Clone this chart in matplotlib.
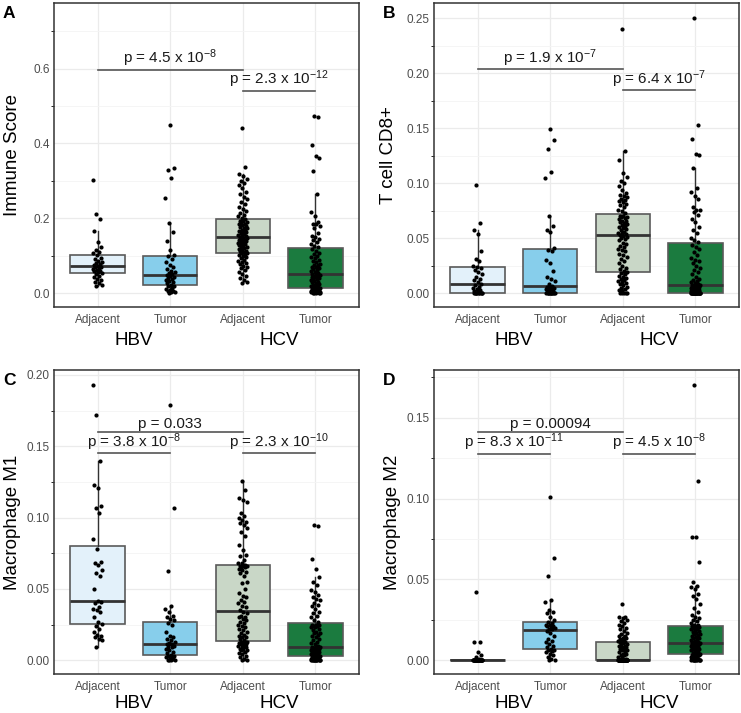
import matplotlib
matplotlib.use("Agg")
import matplotlib.pyplot as plt
import matplotlib.transforms as mtransforms
from matplotlib.ticker import MultipleLocator, FormatStrFormatter

plt.rcParams['font.family'] = ['Liberation Sans', 'DejaVu Sans']
plt.rcParams['mathtext.fontset'] = 'custom'
plt.rcParams['mathtext.rm'] = 'Liberation Sans'
plt.rcParams['mathtext.it'] = 'Liberation Sans:italic'
plt.rcParams['mathtext.bf'] = 'Liberation Sans:bold'
plt.rcParams['mathtext.default'] = 'regular'

# categories
conditions = ["Adjacent", "Tumor", "Adjacent", "Tumor"]
viruses = ["HBV", "HCV"]
box_colors = ["#E3F1FA", "#87CEEB", "#C9D7C7", "#1B7B3F"]

# --- A: Immune Score ---
immune_hbv_adj = [0.018, 0.021, 0.026, 0.030, 0.035, 0.039, 0.043, 0.047, 0.051, 0.054,
                  0.056, 0.058, 0.060, 0.063, 0.065, 0.067, 0.069, 0.071, 0.073, 0.075,
                  0.078, 0.080, 0.083, 0.086, 0.090, 0.094, 0.101, 0.106, 0.110, 0.115,
                  0.122, 0.137, 0.167, 0.197, 0.212, 0.303]
immune_hbv_tum = [0.000, 0.002, 0.004, 0.005, 0.007, 0.009, 0.012, 0.015, 0.018, 0.020,
                  0.023, 0.026, 0.029, 0.032, 0.035, 0.038, 0.041, 0.044, 0.047, 0.048,
                  0.050, 0.053, 0.056, 0.060, 0.065, 0.070, 0.076, 0.083, 0.090, 0.098,
                  0.102, 0.115, 0.138, 0.162, 0.188, 0.253, 0.307, 0.330, 0.335, 0.450]
immune_hcv_adj = [0.028, 0.031, 0.036, 0.041, 0.046, 0.052, 0.057, 0.062, 0.066, 0.070,
                  0.073, 0.077, 0.080, 0.084, 0.087, 0.089, 0.093, 0.096, 0.099, 0.101,
                  0.104, 0.106, 0.108, 0.110, 0.112, 0.113, 0.116, 0.118, 0.121, 0.122,
                  0.124, 0.126, 0.128, 0.130, 0.131, 0.133, 0.135, 0.137, 0.139, 0.140,
                  0.142, 0.143, 0.145, 0.146, 0.148, 0.150, 0.152, 0.154, 0.155, 0.158,
                  0.160, 0.162, 0.165, 0.166, 0.168, 0.170, 0.173, 0.175, 0.177, 0.180,
                  0.182, 0.184, 0.186, 0.188, 0.190, 0.192, 0.194, 0.198, 0.200, 0.205,
                  0.210, 0.214, 0.219, 0.225, 0.231, 0.238, 0.244, 0.252, 0.258, 0.265,
                  0.271, 0.280, 0.288, 0.294, 0.300, 0.306, 0.312, 0.318, 0.338, 0.440]
immune_hcv_tum = [0.000, 0.000, 0.000, 0.001, 0.001, 0.002, 0.002, 0.003, 0.003, 0.004,
                  0.005, 0.005, 0.006, 0.007, 0.007, 0.008, 0.009, 0.009, 0.010, 0.011,
                  0.011, 0.012, 0.013, 0.014, 0.015, 0.016, 0.018, 0.019, 0.021, 0.023,
                  0.025, 0.027, 0.029, 0.031, 0.033, 0.035, 0.037, 0.039, 0.041, 0.043,
                  0.044, 0.046, 0.047, 0.048, 0.049, 0.051, 0.053, 0.056, 0.058, 0.061,
                  0.064, 0.066, 0.069, 0.071, 0.074, 0.076, 0.079, 0.082, 0.085, 0.089,
                  0.093, 0.097, 0.100, 0.104, 0.108, 0.112, 0.118, 0.123, 0.127, 0.131,
                  0.136, 0.141, 0.145, 0.149, 0.153, 0.160, 0.175, 0.180, 0.185, 0.186,
                  0.190, 0.205, 0.217, 0.265, 0.327, 0.360, 0.365, 0.397, 0.470, 0.473]

# --- B: T cell CD8+ ---
cd8_hbv_adj = [0, 0, 0, 0, 0, 0, 0, 0, 0, 0,
               0.001, 0.002, 0.003, 0.004, 0.005, 0.006, 0.007, 0.008, 0.010, 0.012,
               0.013, 0.015, 0.017, 0.019, 0.021, 0.023, 0.024, 0.025, 0.029, 0.031,
               0.038, 0.054, 0.057, 0.064, 0.098]
cd8_hbv_tum = [0, 0, 0, 0, 0, 0, 0, 0, 0, 0,
               0, 0.001, 0.002, 0.003, 0.004, 0.004, 0.005, 0.005, 0.006, 0.006,
               0.0068, 0.008, 0.011, 0.013, 0.015, 0.020, 0.027, 0.030, 0.038, 0.0395,
               0.041, 0.056, 0.057, 0.061, 0.070, 0.105, 0.110, 0.131, 0.139, 0.149]
cd8_hcv_adj = [0, 0, 0, 0, 0, 0.002, 0.003, 0.004, 0.005, 0.006,
               0.007, 0.008, 0.009, 0.010, 0.011, 0.012, 0.013, 0.014, 0.015, 0.016,
               0.017, 0.018, 0.019, 0.020, 0.022, 0.023, 0.025, 0.027, 0.029, 0.031,
               0.033, 0.035, 0.036, 0.038, 0.039, 0.040, 0.042, 0.043, 0.045, 0.046,
               0.048, 0.049, 0.050, 0.051, 0.052, 0.053, 0.054, 0.055, 0.055, 0.056,
               0.057, 0.058, 0.059, 0.060, 0.061, 0.062, 0.063, 0.064, 0.065, 0.066,
               0.066, 0.067, 0.068, 0.069, 0.069, 0.070, 0.070, 0.073, 0.075, 0.076,
               0.078, 0.080, 0.081, 0.083, 0.084, 0.085, 0.086, 0.087, 0.088, 0.089,
               0.091, 0.094, 0.097, 0.100, 0.102, 0.106, 0.109, 0.121, 0.129, 0.240]
cd8_hcv_tum = [0, 0, 0, 0, 0, 0, 0, 0, 0, 0,
               0, 0, 0, 0, 0, 0, 0, 0, 0, 0,
               0, 0, 0, 0, 0.0005, 0.001, 0.0015, 0.002, 0.002, 0.0025,
               0.003, 0.003, 0.0035, 0.004, 0.004, 0.0045, 0.005, 0.005, 0.0055, 0.006,
               0.006, 0.0065, 0.0068, 0.007, 0.0072, 0.0074, 0.008, 0.009, 0.010, 0.011,
               0.012, 0.013, 0.015, 0.017, 0.019, 0.021, 0.023, 0.025, 0.027, 0.029,
               0.030, 0.032, 0.035, 0.037, 0.040, 0.042, 0.044, 0.0465, 0.048, 0.050,
               0.055, 0.057, 0.060, 0.065, 0.067, 0.071, 0.074, 0.0755, 0.076, 0.078,
               0.086, 0.088, 0.092, 0.096, 0.114, 0.126, 0.1265, 0.140, 0.153, 0.250]

# --- C: Macrophage M1 ---
m1_hbv_adj = [0.009, 0.014, 0.015, 0.016, 0.017, 0.018, 0.020, 0.022, 0.024, 0.0255,
              0.027, 0.030, 0.034, 0.035, 0.036, 0.037, 0.040, 0.041, 0.0415, 0.050,
              0.059, 0.061, 0.063, 0.067, 0.068, 0.069, 0.078, 0.085, 0.103, 0.107,
              0.108, 0.121, 0.123, 0.140, 0.172, 0.193]
m1_hbv_tum = [0, 0, 0, 0, 0.001, 0.001, 0.002, 0.002, 0.003, 0.003,
              0.0037, 0.005, 0.006, 0.007, 0.008, 0.009, 0.009, 0.010, 0.011, 0.011,
              0.0112, 0.012, 0.013, 0.014, 0.015, 0.016, 0.017, 0.020, 0.025, 0.026,
              0.028, 0.029, 0.030, 0.031, 0.034, 0.036, 0.038, 0.0625, 0.107, 0.179]
m1_hcv_adj = [0, 0, 0.001, 0.002, 0.003, 0.004, 0.005, 0.006, 0.007, 0.007,
              0.008, 0.008, 0.009, 0.009, 0.010, 0.010, 0.011, 0.011, 0.012, 0.012,
              0.013, 0.013, 0.013, 0.014, 0.015, 0.016, 0.016, 0.017, 0.018, 0.019,
              0.020, 0.021, 0.022, 0.023, 0.024, 0.025, 0.026, 0.027, 0.028, 0.029,
              0.030, 0.030, 0.031, 0.033, 0.034, 0.035, 0.037, 0.038, 0.040, 0.041,
              0.042, 0.044, 0.045, 0.047, 0.050, 0.054, 0.055, 0.059, 0.061, 0.062,
              0.063, 0.064, 0.065, 0.065, 0.066, 0.066, 0.066, 0.067, 0.068, 0.068,
              0.070, 0.073, 0.074, 0.077, 0.081, 0.087, 0.090, 0.093, 0.095, 0.096,
              0.097, 0.098, 0.100, 0.101, 0.103, 0.111, 0.112, 0.114, 0.119, 0.126]
m1_hcv_tum = [0, 0, 0, 0, 0, 0, 0, 0, 0, 0,
              0, 0, 0.0005, 0.001, 0.001, 0.0015, 0.0015, 0.002, 0.002, 0.0022,
              0.0025, 0.0026, 0.0027, 0.003, 0.0035, 0.004, 0.004, 0.0045, 0.005, 0.005,
              0.0055, 0.006, 0.006, 0.0065, 0.007, 0.007, 0.0075, 0.008, 0.008, 0.0083,
              0.0085, 0.0087, 0.0088, 0.0089, 0.009, 0.0092, 0.010, 0.011, 0.012, 0.013,
              0.014, 0.015, 0.016, 0.017, 0.018, 0.019, 0.019, 0.020, 0.021, 0.022,
              0.023, 0.023, 0.024, 0.024, 0.025, 0.025, 0.025, 0.0265, 0.028, 0.030,
              0.031, 0.033, 0.034, 0.036, 0.038, 0.039, 0.040, 0.042, 0.043, 0.044,
              0.046, 0.048, 0.049, 0.053, 0.055, 0.058, 0.064, 0.071, 0.094, 0.0945]

# --- D: Macrophage M2 ---
m2_hbv_adj = [0, 0, 0, 0, 0, 0, 0, 0, 0, 0,
              0, 0, 0, 0, 0, 0, 0, 0, 0, 0,
              0, 0, 0, 0, 0, 0, 0, 0, 0.001, 0.002,
              0.003, 0.005, 0.011, 0.0115, 0.042]
m2_hbv_tum = [0, 0, 0.001, 0.002, 0.003, 0.004, 0.005, 0.0055, 0.006, 0.0062,
              0.007, 0.008, 0.009, 0.010, 0.011, 0.012, 0.013, 0.015, 0.017, 0.018,
              0.019, 0.0195, 0.020, 0.020, 0.021, 0.021, 0.022, 0.022, 0.023, 0.0235,
              0.025, 0.027, 0.029, 0.030, 0.031, 0.036, 0.037, 0.052, 0.063, 0.101]
m2_hcv_adj = [0, 0, 0, 0, 0, 0, 0, 0, 0, 0,
              0, 0, 0, 0, 0, 0, 0, 0, 0, 0,
              0, 0, 0, 0, 0, 0, 0, 0, 0, 0,
              0, 0, 0, 0, 0, 0, 0, 0, 0, 0,
              0, 0, 0, 0, 0, 0, 0.001, 0.002, 0.002, 0.003,
              0.003, 0.004, 0.004, 0.005, 0.005, 0.006, 0.006, 0.007, 0.007, 0.008,
              0.008, 0.009, 0.009, 0.010, 0.010, 0.0105, 0.011, 0.0115, 0.012, 0.012,
              0.013, 0.013, 0.014, 0.014, 0.015, 0.015, 0.016, 0.017, 0.018, 0.019,
              0.020, 0.021, 0.022, 0.023, 0.024, 0.025, 0.026, 0.027, 0.027, 0.035]
m2_hcv_tum = [0, 0, 0, 0, 0, 0, 0, 0, 0, 0,
              0.0005, 0.001, 0.001, 0.0015, 0.002, 0.002, 0.0025, 0.003, 0.003, 0.0033,
              0.0035, 0.0037, 0.0038, 0.004, 0.0045, 0.005, 0.0055, 0.006, 0.0065, 0.007,
              0.0072, 0.0075, 0.008, 0.0083, 0.0086, 0.009, 0.0093, 0.0096, 0.0098, 0.010,
              0.0102, 0.0104, 0.0106, 0.0107, 0.0108, 0.011, 0.0115, 0.012, 0.0125, 0.013,
              0.0135, 0.014, 0.0145, 0.015, 0.0155, 0.016, 0.0165, 0.017, 0.0175, 0.018,
              0.0185, 0.019, 0.0195, 0.020, 0.0205, 0.021, 0.021, 0.0216, 0.022, 0.023,
              0.024, 0.025, 0.026, 0.027, 0.028, 0.030, 0.032, 0.035, 0.038, 0.040,
              0.041, 0.044, 0.045, 0.046, 0.0486, 0.061, 0.076, 0.0765, 0.111, 0.170]

# p-value labels per panel
pvals_a = [r"p = 4.5 x 10$^{-8}$", r"p = 2.3 x 10$^{-12}$"]
pvals_b = [r"p = 1.9 x 10$^{-7}$", r"p = 6.4 x 10$^{-7}$"]
pvals_c = [r"p = 0.033", r"p = 3.8 x 10$^{-8}$", r"p = 2.3 x 10$^{-10}$"]
pvals_d = [r"p = 0.00094", r"p = 8.3 x 10$^{-11}$", r"p = 4.5 x 10$^{-8}$"]

W, H = 741, 713


def px_rect(left, top, right, bottom):
    return [left / W, 1 - bottom / H, (right - left) / W, (bottom - top) / H]


def jitter(n, width=0.065):
    # deterministic spread for the points
    return [((i * 0.6180339887 + 0.37) % 1.0 - 0.5) * 2 * width for i in range(n)]


panels = [
    ("A", "Immune Score", [immune_hbv_adj, immune_hbv_tum, immune_hcv_adj, immune_hcv_tum],
     (54, 3, 359, 307), (-0.037, 0.775), 0.2, "%.1f", -0.108, 33,
     [(1, 3, 0.597, pvals_a[0]), (3, 4, 0.541, pvals_a[1])]),
    ("B", "T cell CD8+", [cd8_hbv_adj, cd8_hbv_tum, cd8_hcv_adj, cd8_hcv_tum],
     (434, 3, 739, 307), (-0.0126, 0.2637), 0.05, "%.2f", -0.121, 33,
     [(1, 3, 0.2034, pvals_b[0]), (3, 4, 0.1843, pvals_b[1])]),
    ("C", "Macrophage M1", [m1_hbv_adj, m1_hbv_tum, m1_hcv_adj, m1_hcv_tum],
     (54, 370, 359, 674), (-0.0097, 0.2035), 0.05, "%.2f", -0.108, 29,
     [(1, 3, 0.1603, pvals_c[0]), (1, 2, 0.1452, pvals_c[1]), (3, 4, 0.1452, pvals_c[2])]),
    ("D", "Macrophage M2", [m2_hbv_adj, m2_hbv_tum, m2_hcv_adj, m2_hcv_tum],
     (434, 370, 739, 674), (-0.00855, 0.1795), 0.05, "%.2f", -0.108, 29,
     [(1, 3, 0.1412, pvals_d[0]), (1, 2, 0.1278, pvals_d[1]), (3, 4, 0.1278, pvals_d[2])]),
]

fig = plt.figure(figsize=(W / 100, H / 100), dpi=100)

for letter, ylabel, groups, box, ylim, step, fmt, ylab_x, grp_off, brackets in panels:
    ax = fig.add_axes(px_rect(*box))
    positions = [1, 2, 3, 4]
    ax_h = box[3] - box[1]

    # grid
    ax.set_axisbelow(True)
    ax.yaxis.set_major_locator(MultipleLocator(step))
    ax.yaxis.set_minor_locator(MultipleLocator(step / 2))
    ax.yaxis.set_major_formatter(FormatStrFormatter(fmt))
    ax.grid(True, which="major", color="#EBEBEB", lw=0.9)
    ax.grid(True, which="minor", axis="y", color="#F4F4F4", lw=0.6)

    bp = ax.boxplot(groups, positions=positions, widths=0.75, patch_artist=True,
                    showfliers=False, showcaps=False, whis=1.5,
                    medianprops=dict(color="#333333", lw=2.0),
                    whiskerprops=dict(color="#333333", lw=1.0),
                    boxprops=dict(edgecolor="#5A5A5A", lw=1.2))
    for patch, col in zip(bp["boxes"], box_colors):
        patch.set_facecolor(col)

    for pos, vals in zip(positions, groups):
        xs = [pos + d for d in jitter(len(vals))]
        ax.scatter(xs, vals, s=9, color="black", linewidths=0, zorder=4)

    # significance brackets
    for x1, x2, y, label in brackets:
        ax.plot([x1, x2], [y, y], color="#555555", lw=1.2, zorder=5)
        ax.annotate(label, xy=((x1 + x2) / 2, y), xytext=(0, 0.3),
                    textcoords="offset points", ha="center", va="bottom",
                    fontsize=11, color="#1a1a1a", zorder=6)

    ax.set_xlim(0.4, 4.6)
    ax.set_ylim(*ylim)
    ax.set_xticks(positions)
    ax.set_xticklabels(conditions)
    ax.tick_params(axis="both", length=0, labelsize=8.5, labelcolor="#4D4D4D")
    ax.tick_params(axis="x", pad=5)
    ax.tick_params(axis="y", pad=3)
    for sp in ax.spines.values():
        sp.set_color("#333333")
        sp.set_linewidth(1.1)

    ax.set_ylabel(ylabel, fontsize=13.5, color="black")
    ax.yaxis.set_label_coords(ylab_x, 0.5)

    trans = mtransforms.blended_transform_factory(ax.transData, ax.transAxes)
    for xc, name in zip([1.5, 3.5], viruses):
        ax.text(xc, -grp_off / ax_h, name, transform=trans, ha="center", va="center",
                fontsize=13.5)

    fig.text((box[0] - 51) / W, 1 - (box[1] + 3) / H, letter, fontsize=12.5,
             fontweight="bold", ha="left", va="top")

fig.savefig("out.png", dpi=100)
